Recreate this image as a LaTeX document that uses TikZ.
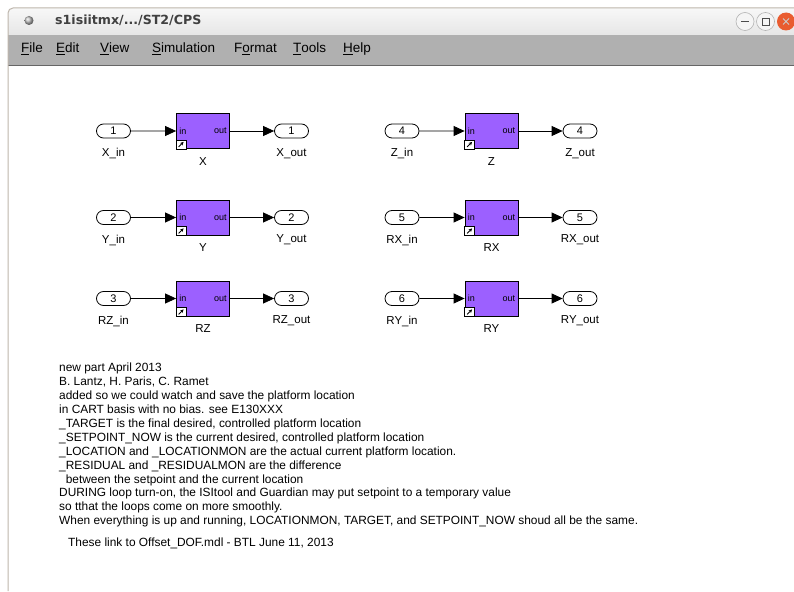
\documentclass[tikz,border=0pt]{standalone}
\usepackage{fontspec}
\setmainfont{Liberation Sans}
\newfontfamily\titlefont{DejaVu Sans}
\usetikzlibrary{arrows.meta,shapes.misc,calc}
\definecolor{blockfill}{RGB}{156,96,255}
\definecolor{menugray}{RGB}{176,176,176}
\definecolor{frameline}{RGB}{190,182,172}
\definecolor{closeorange}{RGB}{233,92,48}
\tikzset{
  port/.style={draw, rounded rectangle, minimum width=34pt, minimum height=14pt,
    inner sep=0pt, font=\fontsize{11}{11}\selectfont, line width=0.8pt},
  subsys/.style={draw, fill=blockfill, minimum width=53pt, minimum height=35pt,
    inner sep=0pt, line width=0.8pt},
  wire/.style={line width=0.8pt, -{Triangle[length=11pt,width=10pt]}},
  lbl/.style={font=\fontsize{11.5}{11.5}\selectfont, inner sep=0pt},
  tiny/.style={font=\fontsize{9}{9}\selectfont, inner sep=0pt},
  menuitem/.style={anchor=west, inner sep=0pt, font=\fontsize{13.5}{13.5}\selectfont},
  winbtn/.style={draw=gray!60, fill=gray!8, line width=0.6pt}
}
% one subsystem row: in port -> block -> out port
\newcommand{\dofrow}[7]{%
  % #1 id, #2 block x, #3 row y, #4 number, #5 in label, #6 block label, #7 out label
  \node[subsys] (b#1) at (#2,#3) {};
  \node[port] (i#1) at ($(#2,#3)+(-89.5,0)$) {#4};
  \node[port] (o#1) at ($(#2,#3)+(88.5,0)$) {#4};
  \draw[wire] (i#1) -- (b#1);
  \draw[wire] (b#1) -- (o#1);
  \node[tiny, anchor=west] (bi#1) at ($(b#1.west)+(3,0)$) {in};
  \node[tiny, anchor=east] (bo#1) at ($(b#1.east)+(-3,0)$) {out};
  \draw[fill=white, line width=0.7pt] (b#1.south west) rectangle ++(10,-9);
  \draw[line width=0.9pt, -{Stealth[length=3.5pt,width=3.5pt]}] ($(b#1.south west)+(2.5,-2)$) -- ++(5,-5);
  \node[lbl] (li#1) at ($(i#1)+(0,22.5)$) {#5};
  \node[lbl] (lb#1) at ($(b#1)+(0,30.5)$) {#6};
  \node[lbl] (lo#1) at ($(o#1)+(0,22.5)$) {#7};
}
\begin{document}
\begin{tikzpicture}[x=1pt,y=-1pt]
\useasboundingbox (0,0) rectangle (794,591);
\fill[white] (0,0) rectangle (794,591);

% window frame, title bar and menu bar
\shade[top color=gray!6, bottom color=gray!22, rounded corners=5pt]
  (8,40) -- (8,8) -- (800,8) -- (800,40) -- cycle;
\fill[menugray] (8,35.5) rectangle (794,65.5);
\draw[black!60, line width=1pt] (8,66) -- (794,66);
\draw[frameline, line width=1pt, rounded corners=5pt] (8,591) -- (8,8) -- (800,8);
\shade[ball color=gray!50] (29,20.5) circle (4.5);
\node[anchor=west, inner sep=0pt, font=\titlefont\bfseries\fontsize{12.6}{12.6}\selectfont, text=black!75] (title) at (55,20.5) {s1isiitmx/.../ST2/CPS};
\draw[winbtn] (745,21.5) circle (9);
\draw[black!70, line width=0.8pt] (741,21.5) -- (749,21.5);
\draw[winbtn] (765.5,21.5) circle (9);
\draw[black!70, line width=0.7pt] (762,18) rectangle (769,25);
\fill[closeorange] (786,21.5) circle (9);
\draw[white!80!black, line width=0.8pt] (783,18.5) -- (789,24.5) (783,24.5) -- (789,18.5);

% menu items with their access keys underlined
\node[menuitem] (mfile) at (21,49) {\underline{F}ile};
\node[menuitem] (medit) at (56,49) {\underline{E}dit};
\node[menuitem] (mview) at (100,49) {\underline{V}iew};
\node[menuitem] (msim)  at (152,49) {\underline{S}imulation};
\node[menuitem] (mfmt)  at (234,49) {F\underline{o}rmat};
\node[menuitem] (mtool) at (293,49) {\underline{T}ools};
\node[menuitem] (mhelp) at (343,49) {\underline{H}elp};

% subsystem rows
\dofrow{1}{203}{131}{1}{X\_in}{X}{X\_out}
\dofrow{2}{203}{217.5}{2}{Y\_in}{Y}{Y\_out}
\dofrow{3}{203}{298.5}{3}{RZ\_in}{RZ}{RZ\_out}
\dofrow{4}{491.5}{131}{4}{Z\_in}{Z}{Z\_out}
\dofrow{5}{491.5}{217.5}{5}{RX\_in}{RX}{RX\_out}
\dofrow{6}{491.5}{298.5}{6}{RY\_in}{RY}{RY\_out}

% annotation
\node[anchor=north west, inner sep=0pt, align=left, font=\fontsize{11.9}{13.9}\selectfont] (notes) at (59,363) {%
new part April 2013\\
B. Lantz, H. Paris, C. Ramet\\
added so we could watch and save the platform location\\
in CART basis with no bias. see E130XXX\\
\_TARGET is the final desired, controlled platform location\\
\_SETPOINT\_NOW is the current desired, controlled platform location\\
\_LOCATION and \_LOCATIONMON are the actual current platform location.\\
\_RESIDUAL and \_RESIDUALMON are the difference\\
\ \ between the setpoint and the current location\\
DURING loop turn-on, the ISItool and Guardian may put setpoint to a temporary value\\
so tthat the loops come on more smoothly.\\
When everything is up and running, LOCATIONMON, TARGET, and SETPOINT\_NOW shoud all be the same.};
\node[anchor=west, inner sep=0pt, font=\fontsize{11.9}{11.9}\selectfont] (link) at (68,543) {These link to Offset\_DOF.mdl - BTL June 11, 2013};
\end{tikzpicture}
\end{document}
